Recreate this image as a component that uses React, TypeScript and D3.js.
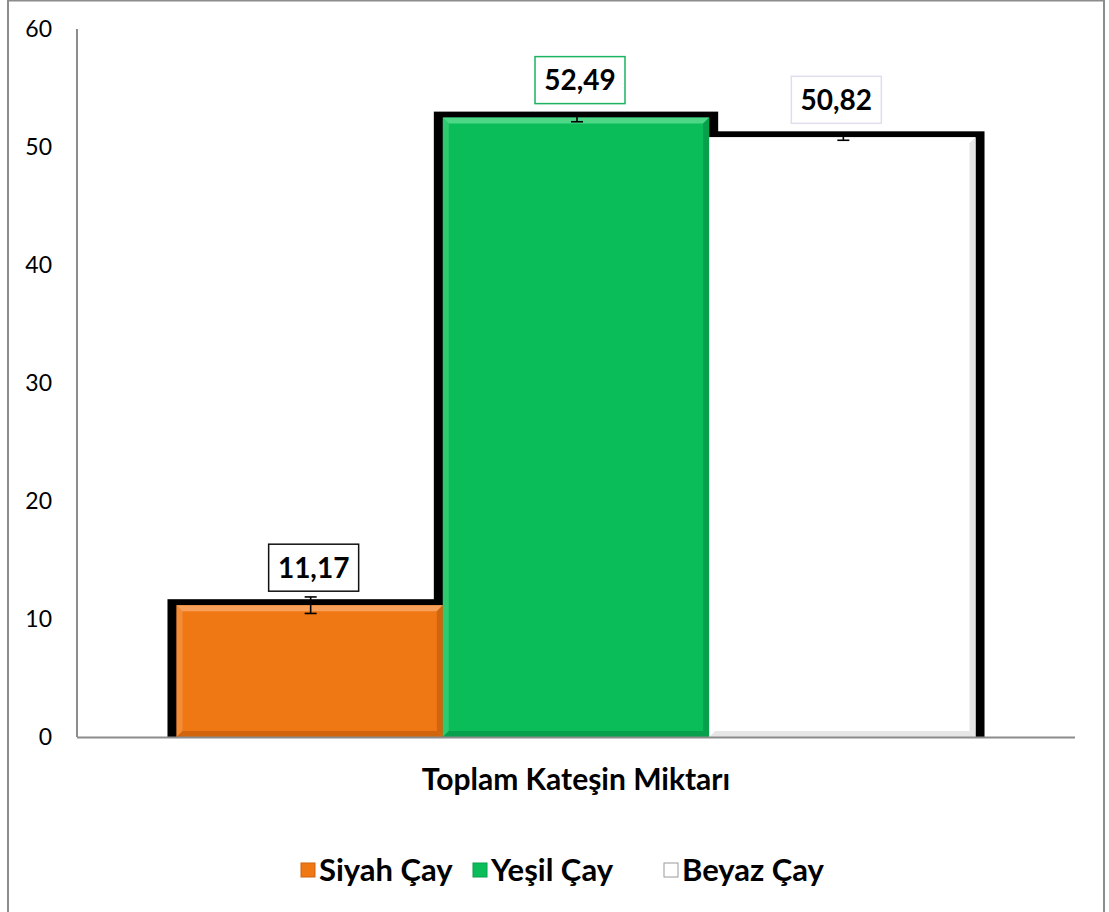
import React from "react";
import * as d3 from "d3";

const categories = ["Toplam Kateşin Miktarı"];
const seriesNames = ["Siyah Çay", "Yeşil Çay", "Beyaz Çay"];
const seriesValues = [11.17, 52.49, 50.82];
const seriesErrors = [0.7, 0.35, 0.25];
const seriesLabels = ["11,17", "52,49", "50,82"];
const yTicks = [0, 10, 20, 30, 40, 50, 60];

const fills = ["#F07814", "#0ABD59", "#FFFFFF"];
const lightEdge = ["#F6A05A", "#4FD788", "#FFFFFF"];
const darkEdge = ["#D0650E", "#08A04C", "#E6E6E6"];
const labelBorders = ["#111111", "#1DB360", "#E2DCEE"];

const FONT = "Lato, 'Open Sans', sans-serif";

export default function App() {
  const W = 1109, H = 912;
  const y = d3.scaleLinear().domain([0, 60]).range([737, 29]);
  const x0 = d3.scaleBand().domain(categories).range([77, 1075]).paddingInner(0).paddingOuter(0.1245);
  const x1 = d3.scaleBand().domain(seriesNames).range([0, x0.bandwidth()]).padding(0);
  const cat = categories[0];
  const base = y(0);
  const bev = 6;

  return (
    <svg width={W} height={H} style={{ position: "absolute", left: 0, top: 0, background: "#fff" }} fontFamily={FONT}>
      <rect x={8} y={0.5} width={1096} height={930} fill="#fff" stroke="#8c8c8c" strokeWidth={2} />
      {/* tick labels */}
      {yTicks.map((t) => (
        <text key={t} x={52} y={y(t)} dy="0.36em" textAnchor="end" fontSize={23} fill="#000">{t}</text>
      ))}
      {/* black backing rects */}
      {seriesNames.map((s, i) => {
        const bx = x0(cat)! + x1(s)!;
        const top = y(seriesValues[i]);
        return <rect key={"sh" + s} x={bx - 9} y={top - 6} width={x1.bandwidth() + 18} height={base - top + 6} fill="#000" />;
      })}
      {/* bars with bevel */}
      {seriesNames.map((s, i) => {
        const bx = x0(cat)! + x1(s)!;
        const bw = x1.bandwidth();
        const top = y(seriesValues[i]);
        const bh = base - top;
        return (
          <g key={"b" + s}>
            <rect x={bx} y={top} width={bw} height={bh} fill={fills[i]} />
            <polygon points={`${bx},${top} ${bx + bw},${top} ${bx + bw - bev},${top + bev} ${bx + bev},${top + bev}`} fill={lightEdge[i]} />
            <polygon points={`${bx},${top} ${bx + bev},${top + bev} ${bx + bev},${base - bev} ${bx},${base}`} fill={lightEdge[i]} opacity={0.5} />
            <polygon points={`${bx + bw},${top} ${bx + bw},${base} ${bx + bw - bev},${base - bev} ${bx + bw - bev},${top + bev}`} fill={darkEdge[i]} />
            <polygon points={`${bx},${base} ${bx + bw},${base} ${bx + bw - bev},${base - bev} ${bx + bev},${base - bev}`} fill={darkEdge[i]} />
          </g>
        );
      })}
      {/* error bars */}
      {seriesNames.map((s, i) => {
        const cx = x0(cat)! + x1(s)! + x1.bandwidth() / 2 + 1;
        const y1 = y(seriesValues[i] + seriesErrors[i]);
        const y2 = y(seriesValues[i] - seriesErrors[i]);
        return (
          <g key={"e" + s} stroke="#000" strokeWidth={1.6}>
            <line x1={cx} x2={cx} y1={y1} y2={y2} />
            <line x1={cx - 6} x2={cx + 6} y1={y1} y2={y1} />
            <line x1={cx - 6} x2={cx + 6} y1={y2} y2={y2} />
          </g>
        );
      })}
      {/* axes */}
      <line x1={77} x2={77} y1={29} y2={base} stroke="#8c8c8c" strokeWidth={2} />
      <line x1={77} x2={1075} y1={base + 0.5} y2={base + 0.5} stroke="#8c8c8c" strokeWidth={2} />
      {/* data labels */}
      {seriesNames.map((s, i) => {
        const cx = x0(cat)! + x1(s)! + x1.bandwidth() / 2 + (i === 2 ? -6 : 4);
        const top = y(seriesValues[i]);
        const bb = top - 14;
        return (
          <g key={"l" + s}>
            <rect x={cx - 45} y={bb - 47} width={90} height={47} fill="#fff" stroke={labelBorders[i]} strokeWidth={1.5} />
            <text x={cx} y={bb - 23.5} dy="0.36em" textAnchor="middle" fontSize={28} fontWeight="bold" fill="#000">{seriesLabels[i]}</text>
          </g>
        );
      })}
      {/* category label */}
      <text x={x0(cat)! + x0.bandwidth() / 2} y={779} dy="0.36em" textAnchor="middle" fontSize={30} fontWeight="bold" fill="#000">{cat}</text>
      {/* legend */}
      {seriesNames.map((s, i) => {
        const lx = [301, 473, 664][i];
        return (
          <g key={"lg" + s}>
            <rect x={lx} y={863} width={14} height={14} fill={fills[i]} stroke={i === 2 ? "#9a9a9a" : darkEdge[i]} strokeWidth={1} />
            <text x={lx + 18} y={870} dy="0.36em" fontSize={31} fontWeight="bold" fill="#000">{s}</text>
          </g>
        );
      })}
    </svg>
  );
}
